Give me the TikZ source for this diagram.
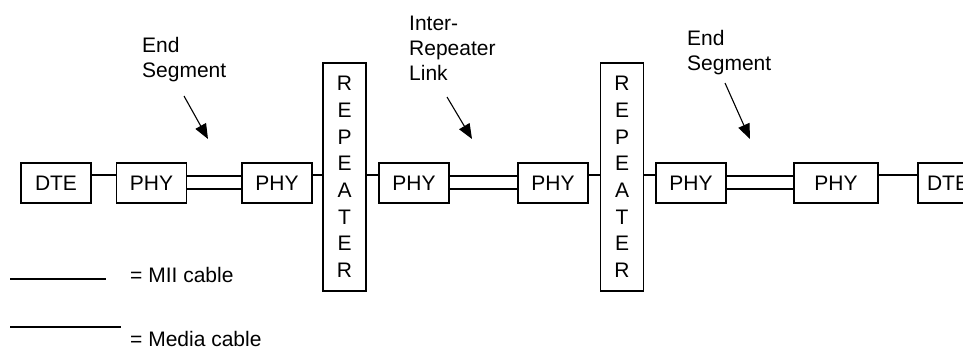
\documentclass[tikz,border=0pt]{standalone}
\usepackage{fontspec}
\setmainfont{Liberation Sans}
\usetikzlibrary{arrows.meta}

\begin{document}
\begin{tikzpicture}[x=1pt,y=-1pt,
  box/.style={draw,line width=1.7pt,inner sep=0pt,minimum width=70pt,minimum height=40pt,font=\fontsize{21}{25}\selectfont},
  repbox/.style={draw,line width=1.7pt,inner sep=0pt,minimum width=43pt,minimum height=228pt,align=center,font=\fontsize{21}{26.7}\selectfont},
  lbl/.style={anchor=north west,inner sep=0pt,align=left,font=\fontsize{21}{25}\selectfont},
  cable/.style={line width=1.7pt},
  pointer/.style={line width=1.1pt,-{Triangle[length=15pt,width=12pt]}}]
  \clip (0,0) rectangle (963,349);
  \node[box] (dte1) at (56,183) {DTE};
  \node[box] (phy1) at (151.5,183) {PHY};
  \node[box] (phy2) at (277,183) {PHY};
  \node[repbox] (rep1) at (344.5,177) {R\\E\\P\\E\\A\\T\\E\\R};
  \node[box] (phy3) at (414,183) {PHY};
  \node[box] (phy4) at (553,183) {PHY};
  \node[repbox] (rep2) at (622,177) {R\\E\\P\\E\\A\\T\\E\\R};
  \node[box] (phy5) at (691,183) {PHY};
  \node[box,minimum width=84pt] (phy6) at (836,183) {PHY};
  \node[box,minimum width=60pt] (dte2) at (948,183) {DTE};
  \draw[cable] ([yshift=8pt]dte1.east) -- ([yshift=8pt]phy1.west);
  \draw[cable] ([yshift=7pt]phy1.east) -- ([yshift=7pt]phy2.west);
  \draw[cable] ([yshift=-6pt]phy1.east) -- ([yshift=-6pt]phy2.west);
  \draw[cable] ([yshift=8pt]phy2.east) -- ([yshift=8pt]phy2.east -| rep1.west);
  \draw[cable] ([yshift=8pt]phy3.west -| rep1.east) -- ([yshift=8pt]phy3.west);
  \draw[cable] ([yshift=7pt]phy3.east) -- ([yshift=7pt]phy4.west);
  \draw[cable] ([yshift=-6pt]phy3.east) -- ([yshift=-6pt]phy4.west);
  \draw[cable] ([yshift=8pt]phy4.east) -- ([yshift=8pt]phy4.east -| rep2.west);
  \draw[cable] ([yshift=8pt]phy5.west -| rep2.east) -- ([yshift=8pt]phy5.west);
  \draw[cable] ([yshift=7pt]phy5.east) -- ([yshift=7pt]phy6.west);
  \draw[cable] ([yshift=-6pt]phy5.east) -- ([yshift=-6pt]phy6.west);
  \draw[cable] ([yshift=8pt]phy6.east) -- ([yshift=8pt]dte2.west);
  \node[lbl] (endl) at (142,37) {End\\Segment};
  \node[lbl] (irl) at (409,16) {Inter-\\Repeater\\Link};
  \node[lbl] (endr) at (687,30) {End\\Segment};
  \coordinate (p1s) at (184,96);
  \coordinate (p1e) at (208,139);
  \coordinate (p2s) at (447,97);
  \coordinate (p2e) at (472,139);
  \coordinate (p3s) at (725,83);
  \coordinate (p3e) at (750,139);
  \draw[pointer] (p1s) -- (p1e);
  \draw[pointer] (p2s) -- (p2e);
  \draw[pointer] (p3s) -- (p3e);
  \draw[cable] (10,279) -- (106,279);
  \draw[cable] (10,327) -- (121,327);
  \node[anchor=west,inner sep=0pt,font=\fontsize{21}{25}\selectfont] (mii) at (130,275) {= MII cable};
  \node[anchor=west,inner sep=0pt,font=\fontsize{21}{25}\selectfont] (media) at (130,339) {= Media cable};
\end{tikzpicture}
\end{document}
